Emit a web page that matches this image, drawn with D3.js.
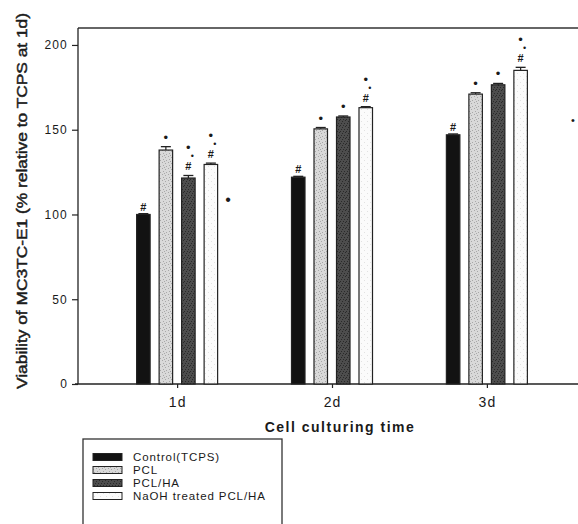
<!DOCTYPE html>
<html>
<head>
<meta charset="utf-8">
<script src="https://cdn.jsdelivr.net/npm/d3@7/dist/d3.min.js"></script>
<style>
  html, body { margin: 0; padding: 0; background: #fff; }
  svg { display: block; }
  text { font-family: "Liberation Sans", Arial, sans-serif; fill: #1a1a1a; }
</style>
</head>
<body>
<script>
// ---- data ----
const categories = ["1d", "2d", "3d"];
const seriesNames = ["Control(TCPS)", "PCL", "PCL/HA", "NaOH treated PCL/HA"];
const controlValues = [100, 122, 147];
const pclValues = [138, 150.5, 171];
const pclHaValues = [121.5, 157.5, 176.5];
const naohValues = [129.5, 163, 185];
const controlErrors = [0.5, 0.5, 0.5];
const pclErrors = [2, 0.8, 0.8];
const pclHaErrors = [1.5, 0.6, 0.8];
const naohErrors = [0.8, 0.6, 1.8];
const controlMarks = [["#"], ["#"], ["#"]];
const pclMarks = [["*"], ["*"], ["*"]];
const pclHaMarks = [["#", "'", "*"], ["*"], ["*"]];
const naohMarks = [["#", "'", "*"], ["#", "'", "*"], ["#", "'", "*"]];
const yTicks = [0, 50, 100, 150, 200];
const yLabel = "Viability of MC3TC-E1 (% relative to TCPS at 1d)";
const xLabel = "Cell culturing time";

const seriesValues = [controlValues, pclValues, pclHaValues, naohValues];
const seriesErrors = [controlErrors, pclErrors, pclHaErrors, naohErrors];
const seriesMarks = [controlMarks, pclMarks, pclHaMarks, naohMarks];

// ---- layout ----
const W = 578, H = 524;
const mLeft = 78, mTop = 28, mBottom = 384, rightExt = 586;

const svg = d3.select("body").append("svg").attr("width", W).attr("height", H);

// patterns (speckled textures)
const defs = svg.append("defs");
function speckle(id, bg, dot, dots) {
  const p = defs.append("pattern").attr("id", id).attr("patternUnits", "userSpaceOnUse")
    .attr("width", 6).attr("height", 6);
  p.append("rect").attr("width", 6).attr("height", 6).attr("fill", bg);
  dots.forEach(d => p.append("rect").attr("x", d[0]).attr("y", d[1]).attr("width", 1).attr("height", 1).attr("fill", dot));
}
speckle("pclPat", "#d9d9d9", "#a8a8a8", [[0,0],[3,1],[1,3],[4,4],[2,5]]);
speckle("pclhaPat", "#4d4d4d", "#2a2a2a", [[0,1],[3,0],[2,3],[5,3],[1,5],[4,5]]);
speckle("naohPat", "#fbfbfb", "#e2e2e2", [[1,1],[4,4]]);
const fills = ["#121212", "url(#pclPat)", "url(#pclhaPat)", "url(#naohPat)"];

const x = d3.scalePoint().domain(categories).range([mLeft, rightExt]).padding(0.64);
const xs = d3.scaleBand().domain(d3.range(seriesNames.length)).range([-45, 45]).paddingInner(0.4).paddingOuter(0.2);
const y = d3.scaleLinear().domain([0, 210]).range([mBottom, mTop]);

// frame top line
svg.append("line").attr("x1", mLeft).attr("x2", W).attr("y1", y(210)).attr("y2", y(210))
  .attr("stroke", "#333").attr("stroke-width", 1.3);

// y axis
const yAxis = svg.append("g").attr("transform", `translate(${mLeft},0)`)
  .call(d3.axisLeft(y).tickValues(yTicks).tickSize(6).tickPadding(4));
yAxis.select(".domain").attr("stroke", "#222").attr("stroke-width", 1.3).attr("d", `M0,${y(210)}V${mBottom}`);
yAxis.selectAll(".tick line").attr("stroke", "#222").attr("stroke-width", 1.2);
yAxis.selectAll(".tick text").attr("font-size", 12).attr("letter-spacing", 1.2)
  .style("font-family", '"Liberation Sans", Arial, sans-serif').attr("fill", "#1a1a1a");

// x axis
const xAxis = svg.append("g").attr("transform", `translate(0,${mBottom})`)
  .call(d3.axisBottom(x).tickSize(4).tickPadding(9));
xAxis.select(".domain").attr("stroke", "#222").attr("stroke-width", 1.3).attr("d", `M${mLeft - 3},0H${W}`);
xAxis.selectAll(".tick line").attr("stroke", "#222").attr("stroke-width", 1.2);
xAxis.selectAll(".tick text").attr("font-size", 14).attr("letter-spacing", 1)
  .style("font-family", '"Liberation Sans", Arial, sans-serif').attr("fill", "#1a1a1a");

// bars
const bw = xs.bandwidth();
seriesNames.forEach((name, si) => {
  const g = svg.append("g");
  categories.forEach((cat, ci) => {
    const v = seriesValues[si][ci];
    const e = seriesErrors[si][ci];
    const bx = x(cat) + xs(si);
    g.append("rect").attr("x", bx).attr("y", y(v)).attr("width", bw).attr("height", y(0) - y(v))
      .attr("fill", fills[si]).attr("stroke", "#222").attr("stroke-width", 1.2);
    // error bar
    const cx = bx + bw / 2;
    g.append("line").attr("x1", cx).attr("x2", cx).attr("y1", y(v)).attr("y2", y(v + e))
      .attr("stroke", "#222").attr("stroke-width", 1.2);
    g.append("line").attr("x1", cx - 5).attr("x2", cx + 5).attr("y1", y(v + e)).attr("y2", y(v + e))
      .attr("stroke", "#222").attr("stroke-width", 1.3);
    // significance marks (asterisks print as dots in the figure)
    const marks = seriesMarks[si][ci];
    const topY = y(v + e);
    let off = marks[0] === "#" ? (marks.length === 1 ? 7 : 9) : 9;
    marks.forEach((m) => {
      const ty = topY - off;
      if (m === "#") {
        g.append("text").attr("x", cx).attr("y", ty + 4).attr("text-anchor", "middle")
          .attr("font-size", 11).attr("font-weight", "bold").attr("fill", "#333").text("#");
        off += 10;
      } else if (m === "'") {
        g.append("text").attr("x", cx + 4).attr("y", ty + 3).attr("text-anchor", "middle")
          .attr("font-size", 9).attr("fill", "#777").text("•");
        off += 8;
      } else {
        g.append("text").attr("x", cx).attr("y", ty + 4).attr("text-anchor", "middle")
          .attr("font-size", 13).attr("fill", "#111").text("•");
        off += 10;
      }
    });
  });
});

// stray dots visible in the figure
svg.append("text").attr("x", x("1d") + 51).attr("y", y(108.5) + 5).attr("text-anchor", "middle")
  .attr("font-size", 16).attr("fill", "#111").text("•");
svg.append("text").attr("x", x("3d") + 86).attr("y", y(155.5) + 4).attr("text-anchor", "middle")
  .attr("font-size", 11).attr("fill", "#111").text("•");

// axis titles
svg.append("text").attr("x", 340).attr("y", 432).attr("text-anchor", "middle")
  .attr("font-size", 14).attr("font-weight", "bold").attr("letter-spacing", 1.5).text(xLabel);
svg.append("text").attr("transform", "translate(27,201) rotate(-90)").attr("text-anchor", "middle")
  .attr("font-size", 14).attr("fill", "#222").attr("stroke", "#222").attr("stroke-width", 0.45)
  .attr("textLength", 376).attr("lengthAdjust", "spacingAndGlyphs").text(yLabel);

// legend
const lg = svg.append("g");
lg.append("rect").attr("x", 83).attr("y", 439).attr("width", 199).attr("height", 100)
  .attr("fill", "#fff").attr("stroke", "#333").attr("stroke-width", 1.3);
seriesNames.forEach((name, si) => {
  const cy = 457 + si * 13;
  lg.append("rect").attr("x", 93).attr("y", cy - 3.5).attr("width", 29).attr("height", 7)
    .attr("fill", fills[si]).attr("stroke", "#222").attr("stroke-width", 1);
  lg.append("text").attr("x", 133).attr("y", cy + 4).attr("font-size", 11.5).attr("letter-spacing", 0.9)
    .attr("fill", "#1a1a1a").text(name);
});
</script>
</body>
</html>
